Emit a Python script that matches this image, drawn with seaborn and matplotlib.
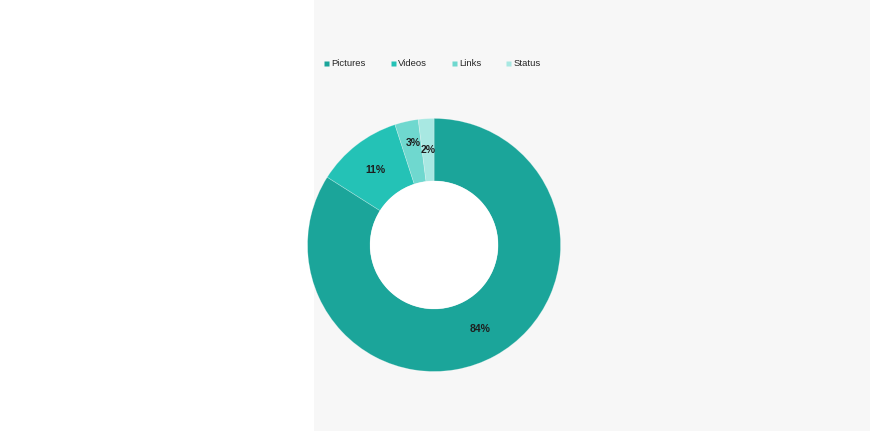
import matplotlib
matplotlib.use("Agg")
import matplotlib.pyplot as plt
from matplotlib.lines import Line2D
from matplotlib.patches import Rectangle, Circle
import numpy as np
import seaborn as sns

categories = ["Pictures", "Videos", "Links", "Status"]
values = [84, 11, 3, 2]
pct_labels = ["84%", "11%", "3%", "2%"]

sns.set_theme(style="white")
plt.rcParams['font.family'] = ['Liberation Sans', 'DejaVu Sans']

colors = sns.color_palette(["#1ba59a", "#24c2b6", "#6fd8cf", "#a8e8e2"])

W, H = 870, 431
fig = plt.figure(figsize=(W / 100 + 0.001, H / 100 + 0.001), dpi=100)
fig.patch.set_facecolor("white")
fig.add_artist(Rectangle((314 / W, -0.05), 1, 1.1, transform=fig.transFigure,
                         facecolor="#f7f7f7", edgecolor="none", zorder=0))

cx, cy, r = 434, 245, 126.5
ax = fig.add_axes([(cx - r) / W, (H - cy - r) / H, 2 * r / W, 2 * r / H])
ax.set_facecolor("none")
inner = 64 / 126.5
wedges, texts = ax.pie(values, colors=colors, startangle=90, counterclock=False,
                       radius=1, wedgeprops=dict(width=1 - inner, edgecolor=(1, 1, 1, 0.3),
                                                 linewidth=0.5))
ax.add_patch(Circle((0, 0), inner, facecolor="white", edgecolor="none", zorder=5))

cum = np.cumsum([0] + values[:-1])
total = sum(values)
mid_r = (1 + inner) / 2
for i, (v, lab) in enumerate(zip(values, pct_labels)):
    ang = np.deg2rad(90 - (cum[i] + v / 2) / total * 360)
    x, y = mid_r * np.cos(ang), mid_r * np.sin(ang)
    if lab == "3%":
        y += 0.07
    ax.text(x, y, lab, ha="center", va="center", fontsize=7.5, fontweight="bold",
            color="#1e1e1e", zorder=6)
ax.set_xlim(-1, 1)
ax.set_ylim(-1, 1)
ax.set_aspect("equal")
ax.axis("off")

handles = [Line2D([0], [0], marker="s", linestyle="none", markersize=3.6,
                  markerfacecolor=c, markeredgecolor="none") for c in colors]
fig.legend(handles, categories, loc="center left", bbox_to_anchor=(324 / W, 1 - 63.5 / H),
           ncol=4, frameon=False, fontsize=6.8, handlelength=0.5, handletextpad=0.3,
           columnspacing=2.6, borderpad=0, borderaxespad=0)

fig.savefig("out.png", dpi=100)
